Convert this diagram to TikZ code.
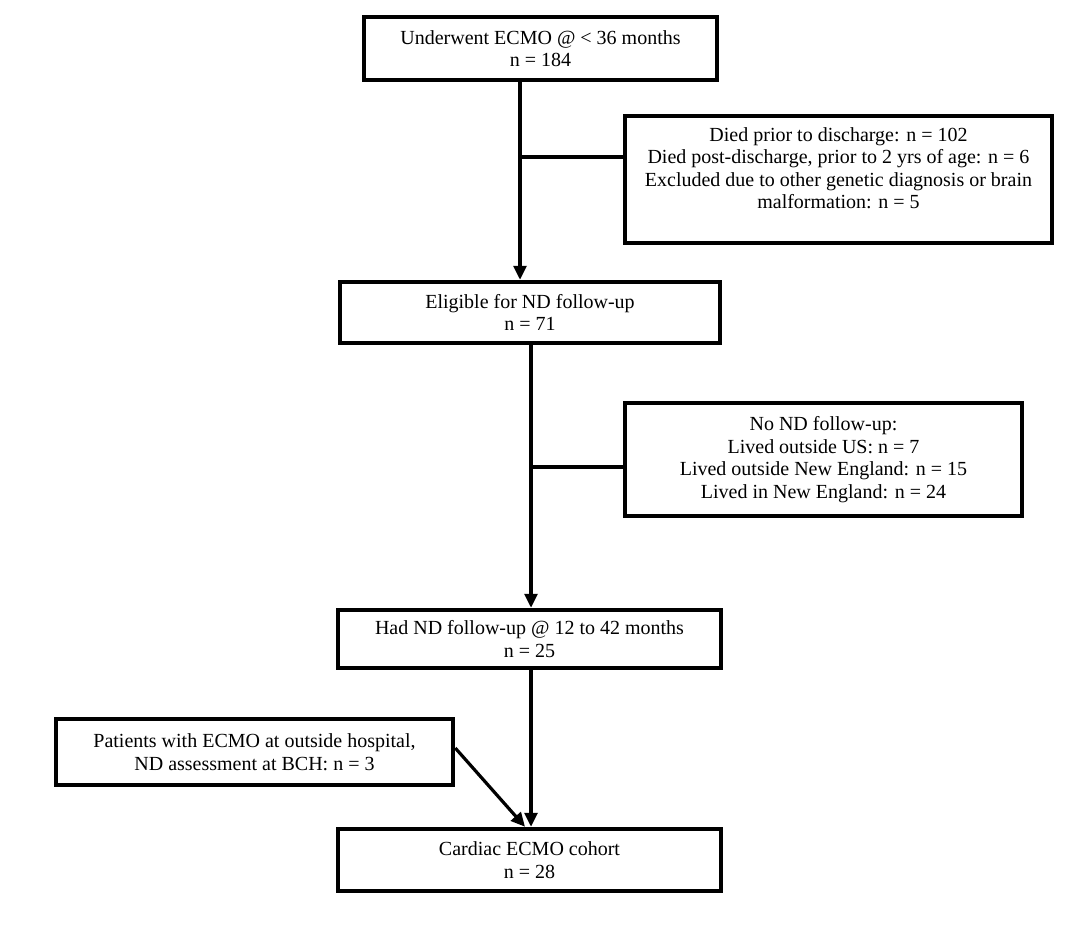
\documentclass[tikz,border=0pt]{standalone}
\usepackage{fontspec}
\setmainfont{Liberation Serif}
\usetikzlibrary{arrows.meta}
\newdimen\unitsize
\setlength{\unitsize}{1pt}

\begin{document}
\begin{tikzpicture}[x=\unitsize,y=-\unitsize]
\tikzset{box/.style={draw, line width=4.5pt, align=center, inner sep=0pt, font=\fontsize{20pt}{22.5pt}\selectfont}}%
\tikzset{edge/.style={line width=3.2pt}}%
\tikzset{arrow/.style={edge, -{Triangle[length=14pt,width=13pt]}}}%
\useasboundingbox (0,0) rectangle (1080,931);
\node[box, minimum width=353pt, minimum height=63pt] (ecmo) at (540.5,48.5) {Underwent ECMO @ < 36 months\\ n = 184};
\node[box, minimum width=427pt, minimum height=127pt] (died) at (838.5,179.5) {Died prior to discharge: n = 102\\ Died post-discharge, prior to 2 yrs of age: n = 6\\ Excluded due to other genetic diagnosis or brain\\ malformation: n = 5\\ \mbox{}};
\node[box, minimum width=380pt, minimum height=61pt] (elig) at (530,312.5) {Eligible for ND follow-up\\ n = 71};
\node[box, minimum width=397pt, minimum height=113pt] (nofu) at (823.5,459.5) {No ND follow-up:\\ Lived outside US: n = 7\\ Lived outside New England: n = 15\\ Lived in New England: n = 24};
\node[box, minimum width=383pt, minimum height=58pt] (fu) at (529.5,639) {Had ND follow-up @ 12 to 42 months\\ n = 25};
\node[box, minimum width=397pt, minimum height=66pt] (outs) at (254.5,752) {Patients with ECMO at outside hospital,\\ ND assessment at BCH: n = 3};
\node[box, minimum width=383pt, minimum height=62pt] (cohort) at (529.5,860) {Cardiac ECMO cohort\\ n = 28};
\coordinate (trunkA) at (520,0);
\coordinate (trunkB) at (531,0);
\coordinate (splitA) at (520,157);
\coordinate (splitB) at (531,467);
\draw[arrow] (ecmo.south -| trunkA) -- (elig.north -| trunkA);
\draw[edge] (splitA) -- (splitA -| died.west);
\draw[arrow] (elig.south -| trunkB) -- (fu.north -| trunkB);
\draw[edge] (splitB) -- (splitB -| nofu.west);
\draw[arrow] (fu.south -| trunkB) -- (cohort.north -| trunkB);
\draw[arrow] ([yshift=4pt]outs.east) -- ([xshift=-6pt]cohort.north -| trunkB);
\end{tikzpicture}
\end{document}
